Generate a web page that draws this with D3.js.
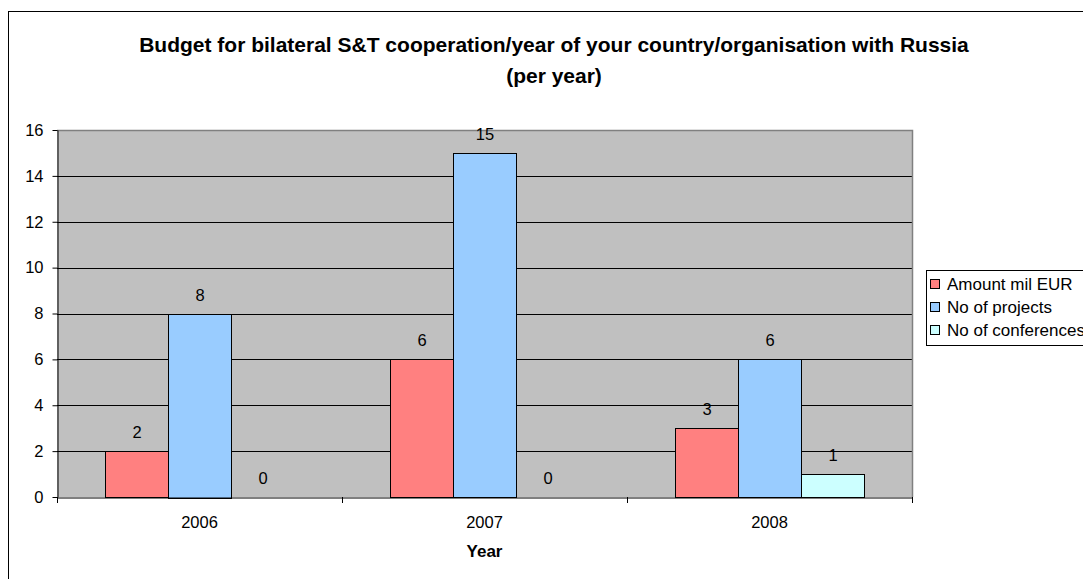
<!DOCTYPE html>
<html><head><meta charset="utf-8">
<script src="https://cdn.jsdelivr.net/npm/d3@7"></script>
<style>body{margin:0;background:#fff}svg{display:block;font-family:"Liberation Sans",Arial,sans-serif}</style>
</head><body><svg id="c" width="1083" height="579"></svg>
<script>
const categories = ["2006","2007","2008"];
const seriesNames = ["Amount mil EUR","No of projects","No of conferences"];
const amountMilEur = [2,6,3];
const noOfProjects = [8,15,6];
const noOfConferences = [0,0,1];
const seriesColors = ["#FF8080","#99CCFF","#CCFFFF"];
const yTicks = [0,2,4,6,8,10,12,14,16];
const seriesValues = [amountMilEur,noOfProjects,noOfConferences];

const FONT = "Liberation Sans, Arial, sans-serif";
const svg = d3.select("#c");
svg.append("rect").attr("x",8.5).attr("y",11.5).attr("width",1100).attr("height",600)
  .attr("fill","#fff").attr("stroke","#000").attr("stroke-width",1);

const L=57,R=912,T=130,B=497;
const x = d3.scaleBand().domain(categories).range([L,R]);
const barW = 63;
const pad = (x.bandwidth()-3*barW)/2;
const y = d3.scaleLinear().domain([0,16]).range([B,T]);

svg.append("rect").attr("x",L).attr("y",T).attr("width",R-L).attr("height",B-T).attr("fill","#C0C0C0");
svg.append("g").selectAll("line").data(yTicks.filter(d=>d>0&&d<16)).join("line")
  .attr("x1",L).attr("x2",R).attr("y1",d=>Math.round(y(d))+0.5).attr("y2",d=>Math.round(y(d))+0.5)
  .attr("stroke","#000").attr("stroke-width",1);
svg.append("path").attr("d",`M${L},${T+0.5}H${R+0.5}V${B}`).attr("fill","none").attr("stroke","#808080").attr("stroke-width",1.5);

const data=[];
categories.forEach((c,i)=>seriesValues.forEach((s,j)=>data.push({c,j,v:s[i]})));
const g = svg.append("g");
g.selectAll("rect").data(data.filter(d=>d.v>0)).join("rect")
  .attr("x",d=>x(d.c)+pad+d.j*barW+0.5).attr("y",d=>Math.round(y(d.v))+0.5)
  .attr("width",barW).attr("height",d=>Math.round(B-y(d.v)))
  .attr("fill",d=>seriesColors[d.j]).attr("stroke","#000").attr("stroke-width",1);
g.selectAll("text").data(data).join("text")
  .attr("x",d=>x(d.c)+pad+d.j*barW+barW/2+0.5).attr("y",d=>y(d.v)-13)
  .attr("text-anchor","middle").attr("font-size",16.5).attr("fill","#000").text(d=>d.v);

const ya = svg.append("g").attr("transform",`translate(${L+0.5},0)`)
  .call(d3.axisLeft(y).tickValues(yTicks).tickSize(5).tickSizeOuter(0).tickPadding(9));
ya.select(".domain").attr("stroke","#000");
ya.selectAll("text").attr("font-size",16.5).attr("font-family",FONT).attr("fill","#000");
const xa = svg.append("g").attr("transform",`translate(0,${B+0.5})`)
  .call(d3.axisBottom(x).tickSize(0).tickPadding(19));
xa.select(".domain").attr("stroke","#000");
xa.selectAll("text").attr("font-size",16.5).attr("font-family",FONT).attr("fill","#000");
svg.append("g").selectAll("line").data([L,R].concat(categories.slice(1).map(c=>x(c)))).join("line")
  .attr("x1",d=>Math.round(d)+0.5).attr("x2",d=>Math.round(d)+0.5).attr("y1",B).attr("y2",B+6).attr("stroke","#000");

svg.append("text").attr("x",(L+R)/2).attr("y",557).attr("text-anchor","middle").attr("font-size",17).attr("font-weight","bold").text("Year");

const tt = svg.append("text").attr("text-anchor","middle").attr("font-size",21).attr("font-weight","bold");
tt.append("tspan").attr("x",554).attr("y",52).text("Budget for bilateral S&T cooperation/year of your country/organisation with Russia");
tt.append("tspan").attr("x",554).attr("y",83).text("(per year)");

const lg = svg.append("g");
lg.append("rect").attr("x",926.5).attr("y",270.5).attr("width",220).attr("height",75).attr("fill","#fff").attr("stroke","#000");
seriesNames.forEach((n,i)=>{
  const cy = 284+i*23;
  lg.append("rect").attr("x",930.5).attr("y",cy-4.5).attr("width",9).attr("height",9).attr("fill",seriesColors[i]).attr("stroke","#000");
  lg.append("text").attr("x",947).attr("y",cy+6).attr("font-size",17).text(n);
});
</script></body></html>
